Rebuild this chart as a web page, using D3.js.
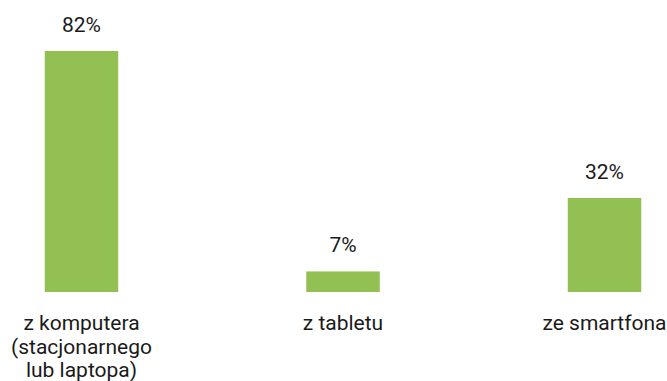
<!DOCTYPE html>
<html>
<head>
<meta charset="utf-8">
<script src="https://cdn.jsdelivr.net/npm/d3@7"></script>
<style>
  html, body { margin: 0; padding: 0; background: #fff; }
  svg { display: block; }
  text { font-family: Roboto, "Noto Sans", sans-serif; fill: #1a1a1a; }
</style>
</head>
<body>
<svg id="chart" width="667" height="381"></svg>
<script>
// Device used to access the service (share of respondents, %)
const categories = [
  ["z komputera", "(stacjonarnego", "lub laptopa)"],
  ["z tabletu"],
  ["ze smartfona"]
];
const values = [82, 7, 32];
const valueLabels = ["82%", "7%", "32%"];

const W = 667, H = 381;
const baseline = 292;
const barWidth = 73.5;
const fontSize = 21;
const lineHeight = 23.5;

const svg = d3.select("#chart");

const keys = categories.map((c, i) => i);
const x = d3.scalePoint().domain(keys).range([81.5, 604.5]);
const y = d3.scaleLinear().domain([0, 82]).range([baseline, 51]);

// bars
svg.append("g")
  .selectAll("rect")
  .data(values)
  .join("rect")
  .attr("x", (d, i) => x(i) - barWidth / 2)
  .attr("y", d => y(d))
  .attr("width", barWidth)
  .attr("height", d => baseline - y(d))
  .attr("fill", "#93c053");

// value labels above bars
svg.append("g")
  .selectAll("text")
  .data(values)
  .join("text")
  .attr("x", (d, i) => x(i))
  .attr("y", d => y(d) - 19)
  .attr("text-anchor", "middle")
  .attr("font-size", fontSize)
  .text((d, i) => valueLabels[i]);

// category labels below the baseline
const cat = svg.append("g")
  .selectAll("text")
  .data(categories)
  .join("text")
  .attr("x", (d, i) => x(i))
  .attr("y", 330)
  .attr("text-anchor", "middle")
  .attr("font-size", fontSize);

cat.selectAll("tspan")
  .data(d => d)
  .join("tspan")
  .attr("x", function () { return d3.select(this.parentNode).attr("x"); })
  .attr("dy", (d, j) => j === 0 ? 0 : lineHeight)
  .text(d => d);
</script>
</body>
</html>
